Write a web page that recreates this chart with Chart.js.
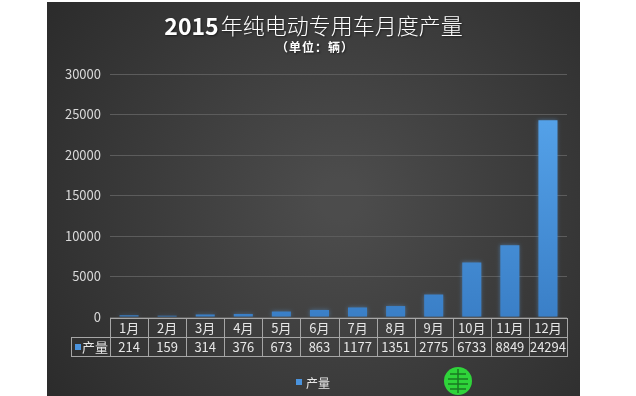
<!DOCTYPE html>
<html>
<head>
<meta charset="utf-8">
<script src="https://cdn.jsdelivr.net/npm/chart.js@4"></script>
<style>
  html, body { margin: 0; padding: 0; background: #ffffff; }
  #wrap { position: absolute; left: 47px; top: 2px; width: 533px; height: 394px; }
</style>
</head>
<body>
<div id="wrap"><canvas id="c" width="533" height="394"></canvas></div>
<script>
const titleNumber = '2015';
const titleRest = '年纯电动专用车月度产量';
const subtitleText = '（单位：辆）';
const categories = ['1月','2月','3月','4月','5月','6月','7月','8月','9月','10月','11月','12月'];
const seriesName = '产量';
const production = [214, 159, 314, 376, 673, 863, 1177, 1351, 2775, 6733, 8849, 24294];
const yMin = 0, yMax = 30000, yStep = 5000;

const FONT = '"Noto Sans CJK SC", "Microsoft YaHei", sans-serif';

const bgPlugin = {
  id: 'bg',
  beforeDraw(chart) {
    const { ctx, width, height } = chart;
    ctx.save();
    const g = ctx.createRadialGradient(width * 0.55, height * 0.5, 20, width * 0.55, height * 0.5, width * 0.65);
    g.addColorStop(0, '#4c4c4c');
    g.addColorStop(1, '#2c2c2c');
    ctx.fillStyle = g;
    ctx.fillRect(0, 0, width, height);
    ctx.restore();
  }
};

const titlePlugin = {
  id: 'titleDraw',
  afterDraw(chart) {
    const { ctx, width } = chart;
    ctx.save();
    ctx.textBaseline = 'middle';
    ctx.fillStyle = '#ffffff';
    ctx.shadowColor = 'rgba(0,0,0,0.5)';
    ctx.shadowBlur = 2;
    ctx.shadowOffsetX = 1;
    ctx.shadowOffsetY = 1;
    const f1 = 'bold 23px ' + FONT;
    const f2 = '300 22px ' + FONT;
    ctx.font = f1; const w1 = ctx.measureText(titleNumber).width;
    ctx.font = f2; const w2 = ctx.measureText(titleRest).width;
    let x = width / 2 - (w1 + w2 + 2) / 2;
    ctx.textAlign = 'left';
    ctx.font = f1; ctx.fillText(titleNumber, x, 24);
    ctx.font = f2; ctx.fillText(titleRest, x + w1 + 2, 24);
    // subtitle: fixed-width character cells
    ctx.font = 'bold 12px ' + FONT;
    ctx.textAlign = 'center';
    const chars = Array.from(subtitleText);
    const cell = 13;
    const sx = width / 2 + 1 - (chars.length * cell) / 2;
    chars.forEach((ch, i) => ctx.fillText(ch, sx + cell * i + cell / 2, 45));
    ctx.restore();
  }
};

const tablePlugin = {
  id: 'dataTable',
  afterDraw(chart) {
    const { ctx, chartArea } = chart;
    const xs = chart.scales.x;
    const n = categories.length;
    const left = chartArea.left, right = chartArea.right;
    const colW = (right - left) / n;
    const top = chartArea.bottom + 1;
    const rowH = 19;
    const mid = top + rowH, bot = top + rowH * 2;
    const labelLeft = 24;
    ctx.save();
    ctx.strokeStyle = '#a6a6a6';
    ctx.lineWidth = 1;
    ctx.beginPath();
    ctx.moveTo(left, top + 0.5); ctx.lineTo(right, top + 0.5);
    ctx.moveTo(labelLeft, mid + 0.5); ctx.lineTo(right, mid + 0.5);
    ctx.moveTo(labelLeft, bot + 0.5); ctx.lineTo(right, bot + 0.5);
    for (let i = 0; i <= n; i++) {
      const x = Math.round(left + i * colW) + 0.5;
      ctx.moveTo(x, top); ctx.lineTo(x, bot + 1);
    }
    ctx.moveTo(labelLeft + 0.5, mid); ctx.lineTo(labelLeft + 0.5, bot + 1);
    ctx.stroke();

    ctx.fillStyle = '#e6e6e6';
    ctx.textAlign = 'center';
    ctx.textBaseline = 'middle';
    ctx.font = '13px ' + FONT;
    for (let i = 0; i < n; i++) {
      const cx = xs.getPixelForValue(i);
      ctx.fillText(categories[i], cx, top + rowH / 2 + 1);
      ctx.fillText(String(production[i]), cx, mid + rowH / 2 + 1);
    }
    ctx.fillStyle = '#4a93dd';
    ctx.fillRect(labelLeft + 4, mid + 7, 6, 6);
    ctx.fillStyle = '#e6e6e6';
    ctx.textAlign = 'left';
    ctx.fillText(seriesName, labelLeft + 11, mid + rowH / 2 + 1);

    // legend
    ctx.fillStyle = '#4a93dd';
    ctx.fillRect(249, 377, 6, 6);
    ctx.fillStyle = '#e6e6e6';
    ctx.font = '12px ' + FONT;
    ctx.fillText(seriesName, 259, 381);

    // watermark logo
    ctx.fillStyle = '#2fd43a';
    ctx.beginPath();
    ctx.arc(411, 379, 14, 0, Math.PI * 2);
    ctx.fill();
    ctx.strokeStyle = '#1a7a22';
    ctx.lineWidth = 1.5;
    ctx.beginPath();
    ctx.moveTo(403, 372); ctx.lineTo(419, 372);
    ctx.moveTo(401, 377); ctx.lineTo(421, 377);
    ctx.moveTo(401, 382); ctx.lineTo(421, 382);
    ctx.moveTo(403, 387); ctx.lineTo(419, 387);
    ctx.moveTo(411, 367); ctx.lineTo(411, 391);
    ctx.stroke();
    ctx.restore();
  }
};

const shadowPlugin = {
  id: 'barGlow',
  beforeDatasetsDraw(chart) {
    const ctx = chart.ctx;
    ctx.save();
    ctx.shadowColor = 'rgba(90,165,240,0.45)';
    ctx.shadowBlur = 4;
  },
  afterDatasetsDraw(chart) {
    chart.ctx.restore();
  }
};

new Chart(document.getElementById('c'), {
  type: 'bar',
  data: {
    labels: categories,
    datasets: [{
      label: seriesName,
      data: production,
      backgroundColor(ctx) {
        const ca = ctx.chart.chartArea;
        if (!ca) return '#4a93dd';
        const g = ctx.chart.ctx.createLinearGradient(0, ca.top, 0, ca.bottom);
        g.addColorStop(0, '#5aa9f0');
        g.addColorStop(1, '#3a7fc7');
        return g;
      },
      borderWidth: 0,
      categoryPercentage: 1.0,
      barPercentage: 0.5
    }]
  },
  options: {
    responsive: false,
    animation: false,
    layout: { padding: { top: 72, bottom: 79, left: 0, right: 13 } },
    plugins: {
      legend: { display: false },
      title: { display: false },
      tooltip: { enabled: false }
    },
    scales: {
      x: { display: false },
      y: {
        min: yMin,
        max: yMax,
        ticks: {
          stepSize: yStep,
          color: '#d9d9d9',
          font: { family: FONT, size: 13 },
          padding: 9,
          callback: (v) => String(v)
        },
        grid: { color: '#5c5c5c', drawTicks: false },
        border: { display: false },
        afterFit(scale) { scale.width = 63; }
      }
    }
  },
  plugins: [bgPlugin, shadowPlugin, titlePlugin, tablePlugin]
});
</script>
</body>
</html>
